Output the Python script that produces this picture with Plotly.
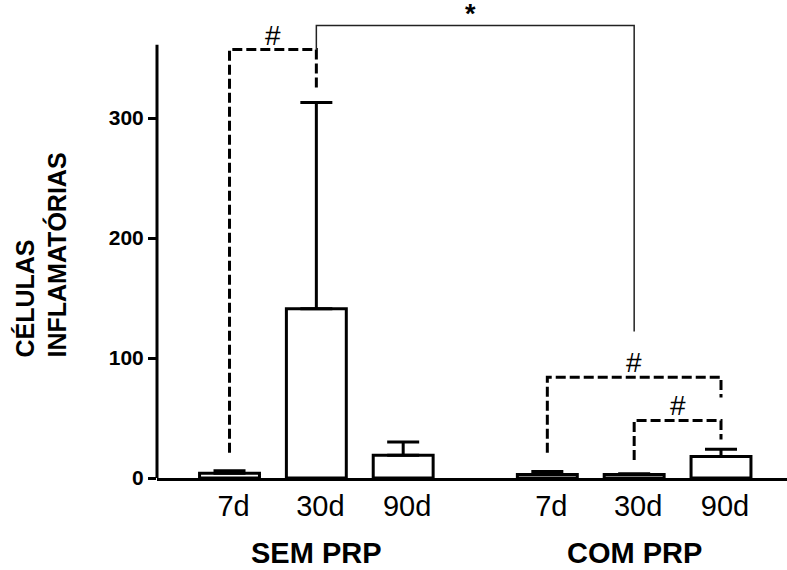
import plotly.graph_objects as go

# ---- data ----
groups = ["SEM PRP", "COM PRP"]
categories = ["7d", "30d", "90d", "7d", "30d", "90d"]
group_of_bar = [0, 0, 0, 1, 1, 1]
means = [4, 141, 19, 3, 3, 18]
errors = [2, 172, 11, 2.5, 0.5, 6]
y_ticks = [0, 100, 200, 300]

# significance brackets: (from bar, to bar, left leg bottom, top, right leg bottom, label)
dashed_brackets = [
    (0, 1, 21, 357, 324, "#"),
    (3, 5, 21, 84, 67, "#"),
    (4, 5, 15, 48, 32, "#"),
]
solid_bracket = (1, 4, 357, 377, 122, "*")
y_axis_top = 361

# ---- layout helpers ----
group_gap = 0.66
xpos = [i + 1 + group_of_bar[i] * group_gap for i in range(len(categories))]
FONT = "Liberation Sans, Arial, sans-serif"

fig = go.Figure()
fig.add_trace(go.Bar(
    x=xpos, y=means, width=0.69,
    marker=dict(color="white", line=dict(color="black", width=3)),
    error_y=dict(type="data", symmetric=False, array=errors,
                 arrayminus=[0] * len(errors), color="black", thickness=3, width=16),
    showlegend=False,
))

shapes = []
annotations = []
# y axis line (custom so the plot area can extend above it)
shapes.append(dict(type="line", xref="paper", yref="y", x0=0, x1=0, y0=0, y1=y_axis_top,
                   line=dict(color="black", width=3), layer="above"))

dash = dict(color="black", width=3, dash="10px,4px")
for a, b, lb, top, rb, lab in dashed_brackets:
    xa, xb = xpos[a], xpos[b]
    shapes.append(dict(type="path", xref="x", yref="y",
                       path=f"M {xa},{lb} L {xa},{top} L {xb},{top} L {xb},{rb}",
                       line=dash))
    annotations.append(dict(x=(xa + xb) / 2, y=top, xref="x", yref="y", text=lab,
                            showarrow=False, yanchor="bottom", yshift=-3,
                            font=dict(family=FONT, size=28, color="black")))

a, b, lb, top, rb, lab = solid_bracket
xa, xb = xpos[a], xpos[b]
shapes.append(dict(type="path", xref="x", yref="y",
                   path=f"M {xa},{lb} L {xa},{top} L {xb},{top} L {xb},{rb}",
                   line=dict(color="#222", width=1.5)))
annotations.append(dict(x=(xa + xb) / 2 - 0.05, y=top, xref="x", yref="y", text=lab,
                        showarrow=False, yanchor="middle", yshift=12,
                        font=dict(family=FONT, size=27, color="black", weight="bold")))

# group labels
for g, name in enumerate(groups):
    idx = [i for i in range(len(categories)) if group_of_bar[i] == g]
    xc = sum(xpos[i] for i in idx) / len(idx)
    annotations.append(dict(x=xc, y=-75 / 478, xref="x", yref="paper", text=name,
                            showarrow=False, yanchor="middle",
                            font=dict(family=FONT, size=29, color="black", weight="bold")))

# y title
annotations.append(dict(x=-0.183, y=186, xref="paper", yref="y",
                        text="CÉLULAS<br>INFLAMATÓRIAS", textangle=-90, align="left",
                        showarrow=False, xanchor="center", yanchor="middle",
                        font=dict(family=FONT, size=25, color="black", weight="bold")))

fig.update_layout(
    width=787, height=570,
    margin=dict(l=157, r=0, t=0, b=92),
    paper_bgcolor="white", plot_bgcolor="white",
    shapes=shapes, annotations=annotations,
    xaxis=dict(range=[0.165, 7.42], tickvals=xpos, ticktext=categories,
               showline=True, linecolor="black", linewidth=3, ticks="",
               showgrid=False, zeroline=False, ticklabelshift=4,
               tickfont=dict(family=FONT, size=29, color="black")),
    yaxis=dict(range=[0, 478 / 1.2], tickvals=y_ticks, ticktext=[str(v) for v in y_ticks],
               showline=False, ticks="outside", ticklen=8, tickwidth=3, tickcolor="black",
               showgrid=False, zeroline=False,
               tickfont=dict(family=FONT, size=21, color="black", weight="bold")),
    font=dict(family=FONT, color="black"),
)

fig.write_html("out.html")
